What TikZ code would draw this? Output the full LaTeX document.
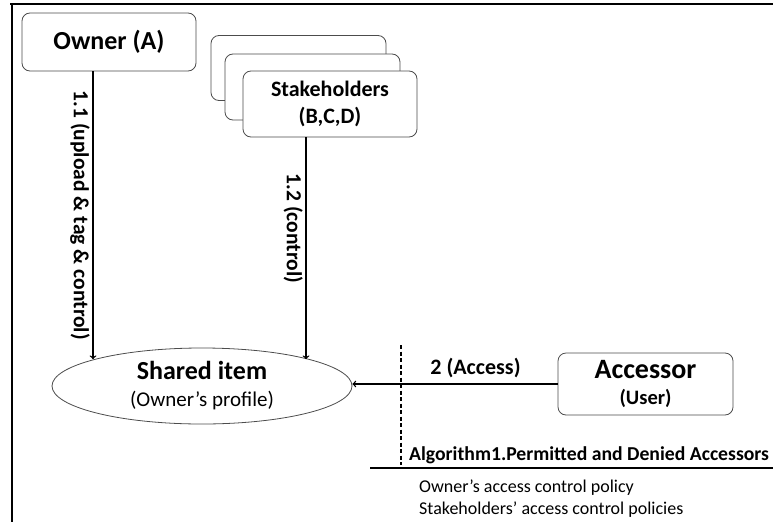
\documentclass[tikz,border=0pt]{standalone}
\usepackage{fontspec}
\setmainfont{Carlito}
\usetikzlibrary{shapes.geometric}
\tikzset{
  roundbox/.style={draw=black!70, fill=white, rounded corners=8pt, line width=0.8pt, align=center, inner sep=0pt},
  flow/.style={->, line width=1.4pt},
  steplabel/.style={font=\fontsize{21.5}{24}\selectfont\bfseries, inner sep=2.5pt},
}

\begin{document}
\begin{tikzpicture}[x=1pt, y=-1pt]
		%%%%% START %%%%%
		\useasboundingbox (0,0) rectangle (773,522);
		\draw[line width=2pt] (10,4) -- (773,4);
		\draw[line width=2pt] (12,4) -- (12,522);
		
		\node[roundbox, minimum width=174pt, minimum height=58pt, font=\fontsize{26}{28}\selectfont\bfseries] (owner) at (109,42) {Owner (A)};
		
		\node[roundbox, minimum width=175pt, minimum height=65pt] (stakeC) at (298.5,68) {};
		\node[roundbox, minimum width=175pt, minimum height=66pt] (stakeB) at (312.5,87) {};
		\node[roundbox, minimum width=174pt, minimum height=66pt, font=\fontsize{22}{27}\selectfont\bfseries] (stake) at (330,104) {Stakeholders\\(B,C,D)};
		
		\node[ellipse, draw=black!70, line width=0.8pt, minimum width=300pt, minimum height=76pt, inner sep=0pt, align=center, font=\fontsize{21}{27}\selectfont] (shared) at (202,386)
			{{\fontsize{26}{27}\selectfont\bfseries Shared item}\\{\fontsize{21}{27}\selectfont (Owner’s profile)}};
		
		\node[roundbox, minimum width=175pt, minimum height=62pt, font=\fontsize{20}{26}\selectfont] (accessor) at (645.5,384)
			{{\fontsize{28}{27}\selectfont\bfseries Accessor}\\{\fontsize{20.5}{26}\selectfont\bfseries (User)}};
		
		\draw[flow] ([xshift=-16pt]owner.south) -- ([xshift=-16pt]owner.south |- shared.166)
			node[midway, anchor=north, rotate=-90, steplabel] {1.1 (upload \& tag \& control)};
		\draw[flow] ([xshift=-24pt]stake.south) -- ([xshift=-24pt]stake.south |- shared.14)
			node[pos=0.41, anchor=north, rotate=-90, steplabel] {1.2 (control)};
		\draw[flow] (accessor.west) -- (accessor.west -| shared.east)
			node[pos=0.4, above=2pt, font=\fontsize{22}{24}\selectfont\bfseries] {2 (Access)};
		
		\coordinate (gateTop) at (401,345);
		\coordinate (gateBot) at (401,465);
		\draw[line width=1.4pt, dash pattern=on 4pt off 2.5pt] (gateTop) -- (gateBot);
		
		\coordinate (ruleL) at (370,468);
		\coordinate (ruleR) at (773,468);
		\draw[line width=2pt] (ruleL) -- (ruleR);
		
		\node[anchor=west, inner sep=0pt, font=\fontsize{19.7}{22}\selectfont\bfseries] (algo) at (409,455) {Algorithm1.Permitted and Denied Accessors};
		\node[anchor=west, inner sep=0pt, font=\fontsize{18}{21}\selectfont] (ownpol) at (419,488) {Owner’s access control policy};
		\node[anchor=west, inner sep=0pt, font=\fontsize{18}{21}\selectfont] (stakepol) at (419,510) {Stakeholders’ access control policies};
		%%%%% END %%%%%
\end{tikzpicture}
\end{document}
